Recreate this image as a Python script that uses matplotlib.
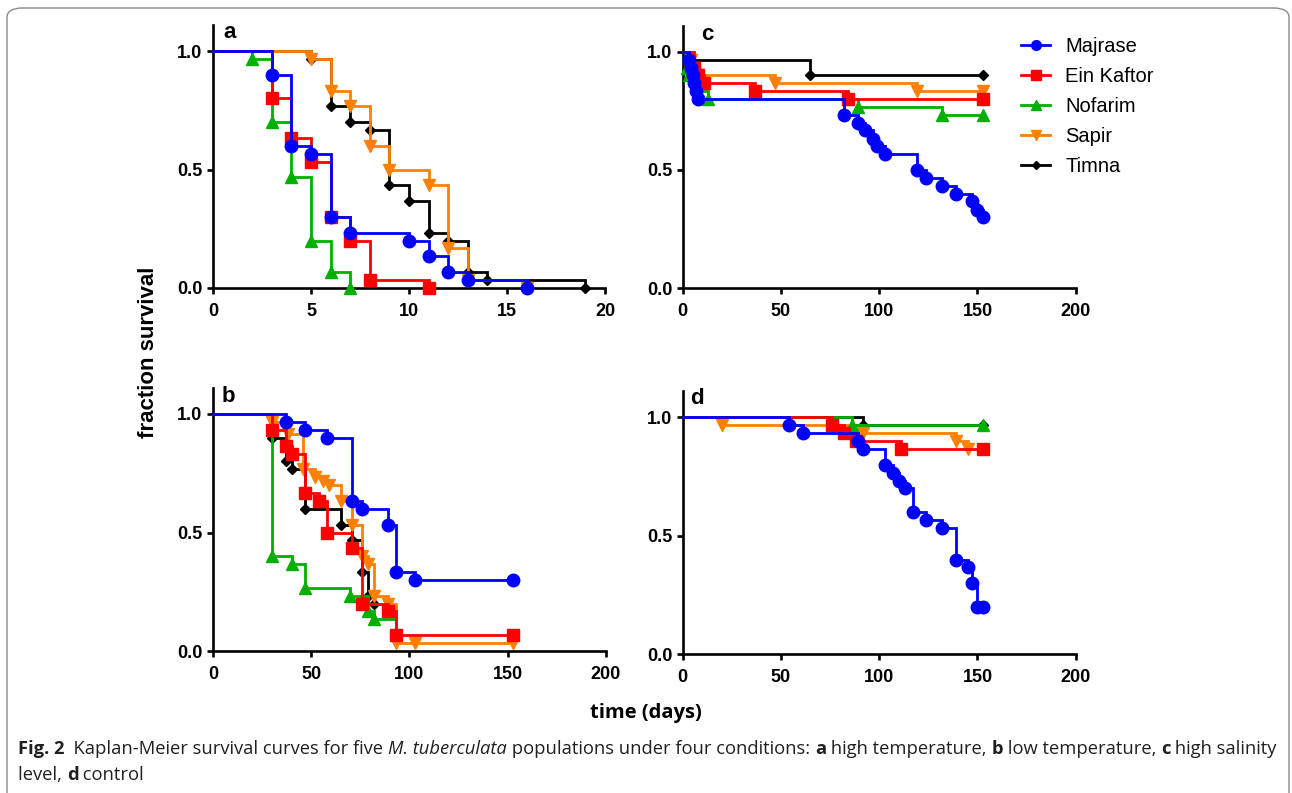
import matplotlib
matplotlib.use("Agg")
import matplotlib.pyplot as plt
from matplotlib.lines import Line2D
from matplotlib.patches import FancyBboxPatch

# ---------------------------------------------------------------------------
# Kaplan-Meier survival data: event day -> fraction surviving after that day
# ---------------------------------------------------------------------------
POPULATIONS = ["Majrase", "Ein Kaftor", "Nofarim", "Sapir", "Timna"]

# a: high temperature
A_MAJRASE_T = [3, 4, 5, 6, 7, 10, 11, 12, 13, 16]
A_MAJRASE_S = [0.900, 0.600, 0.567, 0.300, 0.233, 0.200, 0.133, 0.067, 0.033, 0.0]
A_EINKAFTOR_T = [3, 4, 5, 6, 7, 8, 11]
A_EINKAFTOR_S = [0.800, 0.633, 0.533, 0.300, 0.200, 0.033, 0.0]
A_NOFARIM_T = [2, 3, 4, 5, 6, 7]
A_NOFARIM_S = [0.967, 0.700, 0.467, 0.200, 0.067, 0.0]
A_SAPIR_T = [5, 6, 7, 8, 9, 11, 12, 13, 16]
A_SAPIR_S = [0.967, 0.833, 0.767, 0.600, 0.500, 0.433, 0.167, 0.033, 0.0]
A_TIMNA_T = [5, 6, 7, 8, 9, 10, 11, 12, 13, 14, 19]
A_TIMNA_S = [0.967, 0.767, 0.700, 0.667, 0.433, 0.367, 0.233, 0.200, 0.067, 0.033, 0.0]

# b: low temperature
B_MAJRASE_T = [37, 47, 58, 71, 76, 89, 93, 103, 153]
B_MAJRASE_S = [0.967, 0.933, 0.900, 0.633, 0.600, 0.533, 0.333, 0.300, 0.300]
B_EINKAFTOR_T = [30, 37, 40, 47, 54, 58, 71, 76, 89, 93, 153]
B_EINKAFTOR_S = [0.933, 0.867, 0.833, 0.667, 0.633, 0.500, 0.433, 0.200, 0.167, 0.067, 0.067]
B_NOFARIM_T = [30, 40, 47, 70, 79, 82, 92]
B_NOFARIM_S = [0.400, 0.367, 0.267, 0.233, 0.167, 0.133, 0.133]
B_SAPIR_T = [30, 38, 46, 52, 56, 59, 65, 71, 76, 79, 82, 89, 93, 103, 153]
B_SAPIR_S = [0.967, 0.917, 0.767, 0.733, 0.717, 0.700, 0.633, 0.533, 0.400, 0.367,
             0.233, 0.200, 0.033, 0.033, 0.033]
B_TIMNA_T = [30, 37, 40, 47, 65, 71, 76, 79, 82]
B_TIMNA_S = [0.900, 0.800, 0.767, 0.600, 0.533, 0.467, 0.333, 0.233, 0.200]

# c: high salinity level
C_MAJRASE_T = [3, 4, 5, 6, 7, 8, 82, 89, 93, 97, 99, 103, 119, 124, 132, 139, 147, 150, 153]
C_MAJRASE_S = [0.967, 0.933, 0.900, 0.867, 0.833, 0.800, 0.733, 0.700, 0.667, 0.633,
               0.600, 0.567, 0.500, 0.467, 0.433, 0.400, 0.367, 0.333, 0.300]
C_EINKAFTOR_T = [6, 8, 11, 37, 84, 153]
C_EINKAFTOR_S = [0.933, 0.900, 0.867, 0.833, 0.800, 0.800]
C_NOFARIM_T = [2, 3, 8, 13, 89, 132, 153]
C_NOFARIM_S = [0.933, 0.900, 0.833, 0.800, 0.767, 0.733, 0.733]
C_SAPIR_T = [4, 6, 8, 47, 119, 153]
C_SAPIR_S = [0.967, 0.933, 0.900, 0.867, 0.833, 0.833]
C_TIMNA_T = [4, 65, 153]
C_TIMNA_S = [0.967, 0.900, 0.900]

# d: control
D_MAJRASE_T = [54, 61, 89, 92, 103, 107, 110, 113, 117, 124, 132, 139, 145, 147, 150, 153]
D_MAJRASE_S = [0.967, 0.933, 0.900, 0.867, 0.800, 0.767, 0.733, 0.700, 0.600, 0.567,
               0.533, 0.400, 0.367, 0.300, 0.200, 0.200]
D_EINKAFTOR_T = [76, 82, 88, 111, 153]
D_EINKAFTOR_S = [0.967, 0.933, 0.900, 0.867, 0.867]
D_NOFARIM_T = [86, 153]
D_NOFARIM_S = [0.967, 0.967]
D_SAPIR_T = [20, 92, 139, 145]
D_SAPIR_S = [0.967, 0.933, 0.900, 0.867]
D_TIMNA_T = [92, 153]
D_TIMNA_S = [0.967, 0.967]

A_XTICKS = [0, 5, 10, 15, 20]
LONG_XTICKS = [0, 50, 100, 150, 200]
Y_TICKS = [0.0, 0.5, 1.0]

PANELS = {
    "a": [(A_MAJRASE_T, A_MAJRASE_S), (A_EINKAFTOR_T, A_EINKAFTOR_S),
          (A_NOFARIM_T, A_NOFARIM_S), (A_SAPIR_T, A_SAPIR_S), (A_TIMNA_T, A_TIMNA_S)],
    "b": [(B_MAJRASE_T, B_MAJRASE_S), (B_EINKAFTOR_T, B_EINKAFTOR_S),
          (B_NOFARIM_T, B_NOFARIM_S), (B_SAPIR_T, B_SAPIR_S), (B_TIMNA_T, B_TIMNA_S)],
    "c": [(C_MAJRASE_T, C_MAJRASE_S), (C_EINKAFTOR_T, C_EINKAFTOR_S),
          (C_NOFARIM_T, C_NOFARIM_S), (C_SAPIR_T, C_SAPIR_S), (C_TIMNA_T, C_TIMNA_S)],
    "d": [(D_MAJRASE_T, D_MAJRASE_S), (D_EINKAFTOR_T, D_EINKAFTOR_S),
          (D_NOFARIM_T, D_NOFARIM_S), (D_SAPIR_T, D_SAPIR_S), (D_TIMNA_T, D_TIMNA_S)],
}
# series whose line runs on past the last death without a closing symbol
OPEN_END = {("b", "Nofarim")}

# ---------------------------------------------------------------------------
# styling
# ---------------------------------------------------------------------------
STYLE = {
    "Majrase":    dict(color="#0000FF", marker="o", ms=9.0, lms=7.0),
    "Ein Kaftor": dict(color="#FF0000", marker="s", ms=8.0, lms=6.5),
    "Nofarim":    dict(color="#00B000", marker="^", ms=8.0, lms=6.5),
    "Sapir":      dict(color="#FF8000", marker="v", ms=8.0, lms=6.5),
    "Timna":      dict(color="#000000", marker="D", ms=5.0, lms=4.5),
}
ARIAL = ["Liberation Sans", "DejaVu Sans"]
HUMANIST = ["Open Sans", "Noto Sans", "DejaVu Sans"]

W, H = 1292, 793
DPI = 100
fig = plt.figure(figsize=(W / DPI, H / DPI), dpi=DPI)
fig.patch.set_facecolor("white")

YTOP = 1.11


def panel_axes(x0, x1, y0, y1):
    """Axes whose x range maps to pixels x0..x1 and y=0/1 to rows y0/y1."""
    unit = y0 - y1
    return fig.add_axes([x0 / W, 1 - y0 / H, (x1 - x0) / W, unit * YTOP / H])


LAYOUT = {
    "a": (213.0, 605.0, 288.0, 51.0, 20, A_XTICKS),
    "b": (213.0, 605.7, 651.0, 414.0, 200, LONG_XTICKS),
    "c": (682.7, 1075.7, 288.3, 51.7, 200, LONG_XTICKS),
    "d": (682.7, 1075.7, 654.3, 417.3, 200, LONG_XTICKS),
}
LETTER_POS = {"a": (230, 32), "b": (228, 396), "c": (707, 35), "d": (697, 398)}

for key, (x0, x1, y0, y1, xmax, xticks) in LAYOUT.items():
    ax = panel_axes(x0, x1, y0, y1)
    ax.set_xlim(0, xmax)
    ax.set_ylim(0, YTOP)
    for side in ("top", "right"):
        ax.spines[side].set_visible(False)
    for side in ("left", "bottom"):
        ax.spines[side].set_linewidth(1.9)
        ax.spines[side].set_color("black")
    ax.set_xticks(xticks)
    ax.set_yticks(Y_TICKS)
    ax.set_yticklabels([f"{v:.1f}" for v in Y_TICKS])
    ax.tick_params(direction="out", length=4.5, width=1.9, labelsize=13)
    ax.tick_params(axis="x", pad=6)
    ax.tick_params(axis="y", pad=3)
    for lab in ax.get_xticklabels() + ax.get_yticklabels():
        lab.set_fontweight("bold")
        lab.set_family(ARIAL)
    ax.patch.set_alpha(0)

    n = len(POPULATIONS)
    for i, (name, (t, s)) in enumerate(zip(POPULATIONS, PANELS[key])):
        st = STYLE[name]
        z = 3 + (n - i)
        xs = [0] + list(t)
        ys = [1.0] + list(s)
        ax.plot(xs, ys, drawstyle="steps-post", color=st["color"], lw=2.0,
                zorder=z, clip_on=False, solid_joinstyle="miter")
        mt, msv = list(t), list(s)
        if (key, name) in OPEN_END:
            mt, msv = mt[:-1], msv[:-1]
        ax.plot(mt, msv, ls="none", marker=st["marker"], ms=st["ms"],
                color=st["color"], mec=st["color"], zorder=z + 0.5, clip_on=False)

    lx, ly = LETTER_POS[key]
    fig.text(lx / W, 1 - ly / H, key, fontsize=16, fontweight="bold",
             family=ARIAL, ha="center", va="center")

# legend beside panel c
for i, name in enumerate(POPULATIONS):
    st = STYLE[name]
    yy = 1 - (45 + 30 * i) / H
    fig.add_artist(Line2D([1021 / W, 1050 / W], [yy, yy], transform=fig.transFigure,
                          color=st["color"], lw=2.0))
    fig.add_artist(Line2D([1035.5 / W], [yy], transform=fig.transFigure,
                          marker=st["marker"], ms=st["lms"], color=st["color"], ls="none"))
    fig.text(1065 / W, yy, name, fontsize=14.5, family=ARIAL, ha="left",
             va="center_baseline")

# shared axis titles
fig.text(148 / W, 1 - 352 / H, "fraction survival", rotation=90, fontsize=16,
         fontweight="bold", family=ARIAL, ha="center", va="center")
fig.text(646 / W, 1 - 713 / H, "time (days)", fontsize=14.5, fontweight="bold",
         family=HUMANIST, ha="center", va="center")

# caption, set as runs of differently styled text
renderer = fig.canvas.get_renderer()


def run_width(text, size, weight, style):
    probe = fig.text(0, 0, text + "|", fontsize=size, fontweight=weight,
                     fontstyle=style, family=HUMANIST)
    bar = fig.text(0, 0, "|", fontsize=size, fontweight=weight,
                   fontstyle=style, family=HUMANIST)
    w = probe.get_window_extent(renderer).width - bar.get_window_extent(renderer).width
    probe.remove()
    bar.remove()
    return w


LINE1 = [("Fig. 2", "bold", "normal"),
         ("  Kaplan-Meier survival curves for five ", "normal", "normal"),
         ("M. tuberculata", "normal", "italic"),
         (" populations under four conditions: ", "normal", "normal"),
         ("a", "bold", "normal"), (" high temperature, ", "normal", "normal"),
         ("b", "bold", "normal"), (" low temperature, ", "normal", "normal"),
         ("c", "bold", "normal"), (" high salinity", "normal", "normal")]
LINE2 = [("level, ", "normal", "normal"), ("d", "bold", "normal"),
         (" control", "normal", "normal")]

base = 12.0
total = sum(run_width(t, base, w, s) for t, w, s in LINE1)
cap_size = base * (1275 - 18) / total


def draw_line(runs, x_px, y_px):
    x = x_px
    for text, weight, style in runs:
        fig.text(x / W, 1 - y_px / H, text, fontsize=cap_size, fontweight=weight,
                 fontstyle=style, family=HUMANIST, ha="left", va="baseline",
                 color="#231f20")
        x += run_width(text, cap_size, weight, style)


draw_line(LINE1, 18, 754)
draw_line(LINE2, 18, 780)

# rounded frame around the figure, its lower edge just below the canvas
frame = FancyBboxPatch((7 / W, -10 / H), (1289 - 7) / W, (H - 8 + 10) / H,
                       boxstyle="round,pad=0,rounding_size=0.012",
                       transform=fig.transFigure, fill=False, ec="#8a8a8a", lw=1.0)
fig.add_artist(frame)

fig.savefig("out.png", dpi=DPI, facecolor="white")
